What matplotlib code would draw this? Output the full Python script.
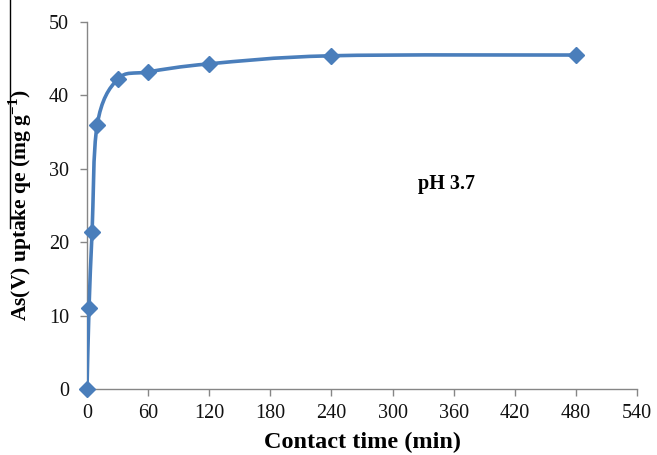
import numpy as np
import matplotlib
matplotlib.use("Agg")
import matplotlib.pyplot as plt
from matplotlib.path import Path
from matplotlib.patches import PathPatch
from matplotlib.lines import Line2D

# Kinetic uptake data
time_min = [0, 2, 5, 10, 30, 60, 120, 240, 480]
qe = [0, 11.1, 21.4, 36.0, 42.2, 43.2, 44.3, 45.4, 45.5]
x_ticks = [0, 60, 120, 180, 240, 300, 360, 420, 480, 540]
y_ticks = [0, 10, 20, 30, 40, 50]

BLUE = "#4a7ebb"
GRAY = "#868686"

plt.rcParams["font.family"] = ["Liberation Serif", "DejaVu Serif"]
plt.rcParams["mathtext.fontset"] = "custom"
plt.rcParams["mathtext.rm"] = "Liberation Serif:bold"
plt.rcParams["mathtext.bf"] = "Liberation Serif:bold"

fig = plt.figure(figsize=(6.57, 4.55), dpi=100)
ax = fig.add_axes([87 / 657, 66 / 455, 550 / 657, 367 / 455])
ax.set_xlim(0, 540)
ax.set_ylim(0, 50)


def smooth_path(xs, ys):
    """Bezier path through the points (Catmull-Rom style smoothing)."""
    pts = np.column_stack([xs, ys]).astype(float)
    n = len(pts)
    verts = [pts[0]]
    codes = [Path.MOVETO]
    for i in range(n - 1):
        p0 = pts[i - 1] if i > 0 else pts[i]
        p1 = pts[i]
        p2 = pts[i + 1]
        p3 = pts[i + 2] if i + 2 < n else pts[i + 1]
        c1 = p1 + (p2 - p0) / 6.0
        c2 = p2 - (p3 - p1) / 6.0
        verts += [c1, c2, p2]
        codes += [Path.CURVE4] * 3
    return Path(verts, codes)


# Work in axes-pixel space so the smoothing follows the drawn shape
fig.canvas.draw()
disp = ax.transData.transform(np.column_stack([time_min, qe]))
path_disp = smooth_path(disp[:, 0], disp[:, 1])
path_data = ax.transData.inverted().transform_path(path_disp)
ax.add_patch(PathPatch(path_data, fill=False, edgecolor=BLUE, lw=2.6,
                       capstyle="round", joinstyle="round", zorder=3))
ax.plot(time_min, qe, linestyle="none", marker="D", markersize=8,
        color=BLUE, markeredgecolor=BLUE, zorder=4, clip_on=False)

ax.set_xticks(x_ticks)
ax.set_yticks(y_ticks)
for side in ("top", "right"):
    ax.spines[side].set_visible(False)
for side in ("left", "bottom"):
    ax.spines[side].set_color(GRAY)
    ax.spines[side].set_linewidth(1.0)
ax.tick_params(axis="both", direction="out", length=5, width=1.0,
               color=GRAY, labelsize=14.5, labelcolor="#111111")
ax.tick_params(axis="x", pad=6)
ax.tick_params(axis="y", pad=8)

ax.set_xlabel("Contact time (min)", fontsize=17.5, fontweight="bold", labelpad=6)
ax.set_ylabel(r"As(V) uptake qe (mg g$^{\mathbf{-1}}$)", fontsize=15.5,
              fontweight="bold", labelpad=11)

ax.text(447, 455 - 184, "pH 3.7", transform=None, fontsize=14.5,
        fontweight="bold", ha="center", va="center")

fig.add_artist(Line2D([10 / 657, 10 / 657], [1.0, 1 - 228 / 455],
                      transform=fig.transFigure, color="black", lw=1.0))

fig.savefig("out.png", dpi=100)
